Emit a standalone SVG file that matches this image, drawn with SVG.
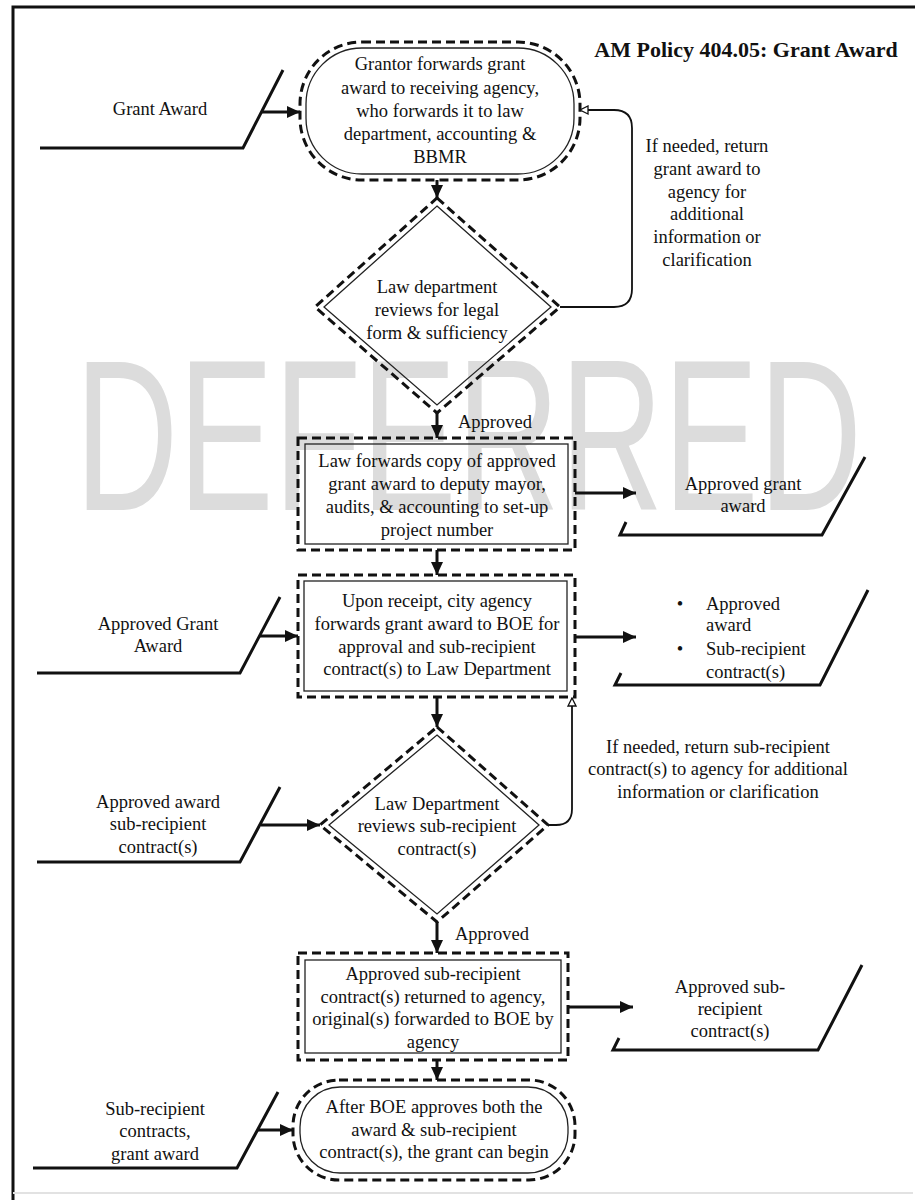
<svg xmlns="http://www.w3.org/2000/svg" width="915" height="1200" viewBox="0 0 915 1200">
<defs>
<style>
text{font-family:"Liberation Serif","Times New Roman",serif;font-size:18.5px;fill:#111;text-anchor:middle}
.title{font-size:22px;font-weight:bold}
.lft{text-anchor:start}
.inner{fill:none;stroke:#222;stroke-width:1.3}
.outer{fill:none;stroke:#111;stroke-width:3;stroke-dasharray:9 5}
.flow{fill:none;stroke:#111;stroke-width:3}
.ret{fill:none;stroke:#111;stroke-width:1.8}
.io{fill:none;stroke:#111;stroke-width:3;stroke-linejoin:miter}
.wm{font-family:"Liberation Sans",Arial,sans-serif;font-size:216px;fill:#dcdcdc;text-anchor:start}
</style>
<marker id="ah" markerUnits="userSpaceOnUse" markerWidth="14" markerHeight="12" refX="13" refY="6" orient="auto"><path d="M0,0 L13,6 L0,12 z" fill="#111"/></marker>
<marker id="oh" markerUnits="userSpaceOnUse" markerWidth="10" markerHeight="10" refX="9" refY="5" orient="auto"><path d="M1,1 L9,5 L1,9 z" fill="#fff" stroke="#111" stroke-width="1.3"/></marker>
</defs>
<rect width="915" height="1200" fill="#fff"/>
<g id="frame">
<path d="M13,1200 V7 H915" fill="none" stroke="#111" stroke-width="3"/>
<path d="M13,1193 H913" fill="none" stroke="#e2e2e2" stroke-width="2"/>
</g>
<text class="wm" x="75" y="510" textLength="787" lengthAdjust="spacingAndGlyphs">DEFERRED</text>
<text class="title" x="746" y="57">AM Policy 404.05: Grant Award</text>

<g id="start">
<rect class="outer" x="300" y="42" width="280" height="138" rx="62"/>
<rect class="inner" x="306" y="48" width="268" height="126" rx="56"/>
<text x="440" y="70">Grantor forwards grant</text>
<text x="440" y="94">award to receiving agency,</text>
<text x="440" y="117">who forwards it to law</text>
<text x="440" y="140">department, accounting &amp;</text>
<text x="440" y="163">BBMR</text>
</g>

<g id="in1">
<path class="io" d="M40,148 H243 L283,70"/>
<text x="160" y="115">Grant Award</text>
</g>

<g id="dec1">
<path class="outer" d="M437,198 L560,307 L437,413 L315,307 Z"/>
<path class="inner" d="M437,206 L551,307 L437,405 L324,307 Z"/>
<text x="437" y="293">Law department</text>
<text x="437" y="316">reviews for legal</text>
<text x="437" y="339">form &amp; sufficiency</text>
</g>

<g id="ret1label">
<text x="707" y="152">If needed, return</text>
<text x="707" y="175">grant award to</text>
<text x="707" y="198">agency for</text>
<text x="707" y="220">additional</text>
<text x="707" y="243">information or</text>
<text x="707" y="266">clarification</text>
</g>

<g id="box1">
<rect class="outer" x="298" y="438" width="277" height="112"/>
<rect class="inner" x="305" y="444" width="263" height="100"/>
<text x="437" y="467">Law forwards copy of approved</text>
<text x="437" y="490">grant award to deputy mayor,</text>
<text x="437" y="513">audits, &amp; accounting to set-up</text>
<text x="437" y="536">project number</text>
</g>

<g id="out1">
<path class="io" d="M626,522 L620,535 H822 L865,457"/>
<text x="743" y="490">Approved grant</text>
<text x="743" y="512">award</text>
</g>

<g id="box2">
<rect class="outer" x="298" y="575" width="277" height="122"/>
<rect class="inner" x="304" y="581" width="263" height="110"/>
<text x="437" y="607">Upon receipt, city agency</text>
<text x="437" y="630">forwards grant award to BOE for</text>
<text x="437" y="653">approval and sub-recipient</text>
<text x="437" y="675">contract(s) to Law Department</text>
</g>

<g id="in2">
<path class="io" d="M37,673 H240 L280,597"/>
<text x="158" y="630">Approved Grant</text>
<text x="158" y="652">Award</text>
</g>

<g id="out2">
<path class="io" d="M621,673 L615,685 H820 L868,590"/>
<text x="680" y="610">•</text>
<text class="lft" x="706" y="610">Approved</text>
<text class="lft" x="706" y="631">award</text>
<text x="680" y="655">•</text>
<text class="lft" x="706" y="655">Sub-recipient</text>
<text class="lft" x="706" y="678">contract(s)</text>
</g>

<g id="dec2">
<path class="outer" d="M437,727 L548,825 L437,922 L320,825 Z"/>
<path class="inner" d="M437,735 L539,825 L437,914 L329,825 Z"/>
<text x="437" y="810">Law Department</text>
<text x="437" y="832">reviews sub-recipient</text>
<text x="437" y="855">contract(s)</text>
</g>

<g id="in3">
<path class="io" d="M37,862 H240 L280,787"/>
<text x="158" y="808">Approved award</text>
<text x="158" y="830">sub-recipient</text>
<text x="158" y="853">contract(s)</text>
</g>

<g id="ret2label">
<text x="718" y="753">If needed, return sub-recipient</text>
<text x="718" y="775">contract(s) to agency for additional</text>
<text x="718" y="798">information or clarification</text>
</g>

<g id="box3">
<rect class="outer" x="298" y="953" width="270" height="107"/>
<rect class="inner" x="305" y="960" width="256" height="93"/>
<text x="433" y="980">Approved sub-recipient</text>
<text x="433" y="1003">contract(s) returned to agency,</text>
<text x="433" y="1025">original(s) forwarded to BOE by</text>
<text x="433" y="1048">agency</text>
</g>

<g id="out3">
<path class="io" d="M619,1038 L613,1050 H818 L862,965"/>
<text x="730" y="993">Approved sub-</text>
<text x="730" y="1015">recipient</text>
<text x="730" y="1037">contract(s)</text>
</g>

<g id="end">
<rect class="outer" x="293" y="1080" width="282" height="100" rx="46"/>
<rect class="inner" x="300" y="1087" width="268" height="86" rx="40"/>
<text x="434" y="1113">After BOE approves both the</text>
<text x="434" y="1136">award &amp; sub-recipient</text>
<text x="434" y="1158">contract(s), the grant can begin</text>
</g>

<g id="in4">
<path class="io" d="M33,1168 H237 L278,1092"/>
<text x="155" y="1115">Sub-recipient</text>
<text x="155" y="1137">contracts,</text>
<text x="155" y="1160">grant award</text>
</g>

<g id="labels">
<text class="lft" x="458" y="428">Approved</text>
<text class="lft" x="455" y="940">Approved</text>
</g>

<g id="connectors">
<line class="flow" x1="437" y1="180" x2="437" y2="198" marker-end="url(#ah)"/>
<line class="flow" x1="437" y1="413" x2="437" y2="438" marker-end="url(#ah)"/>
<line class="flow" x1="437" y1="550" x2="437" y2="575" marker-end="url(#ah)"/>
<line class="flow" x1="437" y1="697" x2="437" y2="727" marker-end="url(#ah)"/>
<line class="flow" x1="437" y1="922" x2="437" y2="953" marker-end="url(#ah)"/>
<line class="flow" x1="437" y1="1060" x2="437" y2="1080" marker-end="url(#ah)"/>
<line class="flow" x1="262" y1="112" x2="300" y2="112" marker-end="url(#ah)"/>
<line class="flow" x1="260" y1="636" x2="298" y2="636" marker-end="url(#ah)"/>
<line class="flow" x1="261" y1="825" x2="320" y2="825" marker-end="url(#ah)"/>
<line class="flow" x1="258" y1="1130" x2="293" y2="1130" marker-end="url(#ah)"/>
<line class="flow" x1="575" y1="493" x2="636" y2="493" marker-end="url(#ah)"/>
<line class="flow" x1="575" y1="637" x2="636" y2="637" marker-end="url(#ah)"/>
<line class="flow" x1="568" y1="1007" x2="633" y2="1007" marker-end="url(#ah)"/>
<path class="ret" d="M560,307 H614 Q632,307 632,289 V128 Q632,110 614,110 H580" marker-end="url(#oh)"/>
<path class="ret" d="M548,825 H556 Q572,825 572,809 V698" marker-end="url(#oh)"/>
</g>
</svg>
